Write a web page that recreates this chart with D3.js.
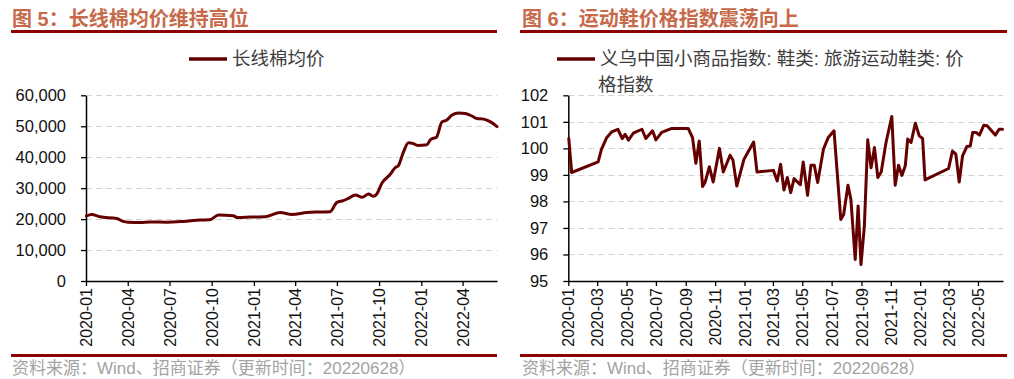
<!DOCTYPE html>
<html>
<head>
<meta charset="utf-8">
<script src="https://cdn.jsdelivr.net/npm/d3@7/dist/d3.min.js"></script>
<style>
body{margin:0;background:#fff;}
svg{display:block;font-family:"Liberation Sans",Arial,"Noto Sans CJK SC",sans-serif;}
</style>
</head>
<body>
<svg id="chart" width="1014" height="379"></svg>
<script>
// ---- Data ----
const cottonDates = ["2020-01-02","2020-01-13","2020-01-31","2020-03-08","2020-03-22","2020-04-02","2020-04-28","2020-05-20","2020-06-25","2020-07-31","2020-09-06","2020-09-27","2020-10-16","2020-11-17","2020-11-26","2020-12-24","2021-01-29","2021-02-27","2021-03-25","2021-04-27","2021-05-26","2021-06-16","2021-07-01","2021-07-15","2021-07-26","2021-08-10","2021-08-25","2021-09-08","2021-09-19","2021-09-26","2021-10-07","2021-10-25","2021-11-05","2021-11-12","2021-11-23","2021-12-04","2021-12-15","2021-12-24","2022-01-13","2022-01-21","2022-02-03","2022-02-15","2022-02-25","2022-03-09","2022-03-23","2022-04-07","2022-04-22","2022-05-02","2022-05-17","2022-06-01","2022-06-15"];
const cottonValues = [21000,21500,20750,20200,19250,19000,18900,19100,19000,19250,19700,19800,21300,21100,20500,20650,20860,22150,21500,22150,22300,22400,25400,25950,26700,27800,27030,28100,27350,28100,31600,34400,36600,37300,41650,44700,44370,43800,44000,45700,46500,51400,51950,53600,54300,54100,53250,52500,52300,51400,49900];

const shoeDates = ["2020-01-02","2020-01-08","2020-03-03","2020-03-10","2020-03-21","2020-03-31","2020-04-13","2020-04-22","2020-04-28","2020-05-05","2020-05-15","2020-06-02","2020-06-10","2020-06-24","2020-07-01","2020-07-13","2020-08-03","2020-09-06","2020-09-15","2020-09-22","2020-09-29","2020-10-06","2020-10-11","2020-10-20","2020-10-28","2020-11-10","2020-11-18","2020-12-02","2020-12-08","2020-12-16","2020-12-31","2021-01-20","2021-01-27","2021-03-02","2021-03-10","2021-03-17","2021-03-24","2021-03-31","2021-04-07","2021-04-14","2021-04-27","2021-05-03","2021-05-12","2021-05-19","2021-05-26","2021-06-02","2021-06-14","2021-06-24","2021-07-06","2021-07-20","2021-07-26","2021-08-04","2021-08-10","2021-08-19","2021-08-25","2021-08-31","2021-09-07","2021-09-14","2021-09-21","2021-09-28","2021-10-05","2021-10-12","2021-10-22","2021-11-03","2021-11-10","2021-11-17","2021-11-24","2021-12-01","2021-12-06","2021-12-13","2021-12-22","2021-12-30","2022-01-06","2022-01-11","2022-03-01","2022-03-09","2022-03-16","2022-03-23","2022-03-30","2022-04-08","2022-04-15","2022-04-20","2022-04-27","2022-05-04","2022-05-13","2022-05-20","2022-06-06","2022-06-14","2022-06-21"];
const shoeValues = [100.37,99.09,99.49,99.97,100.41,100.62,100.72,100.37,100.53,100.31,100.57,100.72,100.37,100.66,100.32,100.60,100.75,100.75,100.41,99.44,100.28,98.56,98.71,99.31,98.73,100.0,99.11,99.74,99.56,98.58,99.59,100.24,99.11,99.17,98.77,99.40,98.43,98.90,98.33,98.86,98.63,99.49,98.23,99.36,99.36,98.71,99.97,100.41,100.66,97.32,97.51,98.61,98.08,95.81,97.83,95.62,97.07,100.32,99.27,100.03,98.90,99.11,100.22,101.2,98.61,99.36,98.98,99.34,100.35,100.22,100.95,100.47,100.37,98.81,99.24,99.90,99.78,98.73,99.72,100.07,100.09,100.60,100.60,100.50,100.87,100.85,100.50,100.72,100.72];

const cottonYTicks = [0,10000,20000,30000,40000,50000,60000];
const shoeYTicks = [95,96,97,98,99,100,101,102];
const cottonXTicks = ["2020-01","2020-04","2020-07","2020-10","2021-01","2021-04","2021-07","2021-10","2022-01","2022-04"];
const shoeXTicks = ["2020-01","2020-03","2020-05","2020-07","2020-09","2020-11","2021-01","2021-03","2021-05","2021-07","2021-09","2021-11","2022-01","2022-03","2022-05"];

const leftTitle = "图 5：长线棉均价维持高位";
const rightTitle = "图 6：运动鞋价格指数震荡向上";
const leftLegend = ["长线棉均价"];
const rightLegend = ["义乌中国小商品指数: 鞋类: 旅游运动鞋类: 价", "格指数"];
const sourceText = "资料来源：Wind、招商证券（更新时间：20220628）";

// ---- Drawing ----
const svg = d3.select("#chart");
const parseDay = d3.timeParse("%Y-%m-%d");
const parseMonth = d3.timeParse("%Y-%m");
const lineColor = "#650000";
const ruleColor = "#8b0000";

function panel(cfg){
  const g = svg.append("g");
  // title
  g.append("text").attr("x", cfg.titleX).attr("y", 26)
    .attr("font-size", 20).attr("font-weight", "bold").attr("fill", "#c66a4a")
    .text(cfg.title);
  g.append("line").attr("x1", cfg.ruleX1).attr("x2", cfg.ruleX2).attr("y1", 31.5).attr("y2", 31.5)
    .attr("stroke", ruleColor).attr("stroke-width", 3);
  g.append("line").attr("x1", cfg.ruleX1).attr("x2", cfg.ruleX2).attr("y1", 355.5).attr("y2", 355.5)
    .attr("stroke", ruleColor).attr("stroke-width", 3);
  g.append("text").attr("x", cfg.titleX).attr("y", 374)
    .attr("font-size", 17).attr("fill", "#a3a3a3").text(sourceText);

  // legend
  g.append("line").attr("x1", cfg.legX).attr("x2", cfg.legX + 38).attr("y1", 59).attr("y2", 59)
    .attr("stroke", lineColor).attr("stroke-width", 3.5);
  cfg.legend.forEach((t, i) => {
    g.append("text").attr("x", cfg.legX + 43 - (i ? 2 : 0)).attr("y", 59 + i * 26)
      .attr("dy", "0.35em").attr("font-size", 18.5).attr("fill", "#3d3d3d").text(t);
  });

  const x = d3.scaleTime().domain(cfg.xDomain.map(parseDay)).range([cfg.x0, cfg.x1]);
  const y = d3.scaleLinear().domain(d3.extent(cfg.yTicks)).range([281, 95.3]);

  // gridlines
  g.append("g").selectAll("line").data(cfg.yTicks.slice(1)).join("line")
    .attr("x1", cfg.x0).attr("x2", cfg.x1)
    .attr("y1", d => Math.round(y(d)) + 0.5).attr("y2", d => Math.round(y(d)) + 0.5)
    .attr("stroke", "#d4d4d4").attr("stroke-width", 1).attr("stroke-dasharray", "6,4");

  // y axis
  const ya = g.append("g").attr("transform", `translate(${cfg.x0},0)`)
    .call(d3.axisLeft(y).tickValues(cfg.yTicks).tickSize(5).tickPadding(15)
      .tickFormat(cfg.yFormat).tickSizeOuter(0));
  ya.select(".domain").attr("stroke", "#000").attr("stroke-width", 1.5);
  ya.selectAll(".tick line").attr("stroke", "#000").attr("stroke-width", 1.3);
  ya.selectAll(".tick text").attr("font-size", 16.5).attr("fill", "#111")
    .attr("font-family", '"Liberation Sans",Arial,sans-serif');

  // x axis
  const xa = g.append("g").attr("transform", "translate(0,281)")
    .call(d3.axisBottom(x).tickValues(cfg.xTicks.map(parseMonth)).tickSize(5)
      .tickFormat(d3.timeFormat("%Y-%m")).tickSizeOuter(0));
  xa.select(".domain").attr("stroke", "#000").attr("stroke-width", 1.5);
  xa.selectAll(".tick line").attr("stroke", "#000").attr("stroke-width", 1.3);
  xa.selectAll(".tick text").attr("font-size", 16).attr("fill", "#111")
    .attr("font-family", '"Liberation Sans",Arial,sans-serif')
    .attr("transform", "rotate(-90)").attr("text-anchor", "end")
    .attr("x", -7).attr("y", 0).attr("dy", "0.35em");

  // series line
  const pts = cfg.dates.map((d, i) => [parseDay(d), cfg.values[i]]);
  g.append("path").datum(pts)
    .attr("fill", "none").attr("stroke", lineColor).attr("stroke-width", 3)
    .attr("stroke-linejoin", "round").attr("stroke-linecap", "round")
    .attr("d", d3.line().x(d => x(d[0])).y(d => y(d[1])).curve(cfg.curve));
}

panel({
  title: leftTitle, titleX: 12, ruleX1: 11, ruleX2: 497,
  legX: 189, legend: leftLegend,
  x0: 86, x1: 497, xDomain: ["2020-01-01", "2022-06-15"],
  yTicks: cottonYTicks, yFormat: d3.format(","),
  xTicks: cottonXTicks, dates: cottonDates, values: cottonValues,
  curve: d3.curveMonotoneX
});
panel({
  title: rightTitle, titleX: 522, ruleX1: 520, ruleX2: 1007,
  legX: 557, legend: rightLegend,
  x0: 568.3, x1: 1003, xDomain: ["2020-01-01", "2022-06-22"],
  yTicks: shoeYTicks, yFormat: d3.format("d"),
  xTicks: shoeXTicks, dates: shoeDates, values: shoeValues,
  curve: d3.curveLinear
});
</script>
</body>
</html>
